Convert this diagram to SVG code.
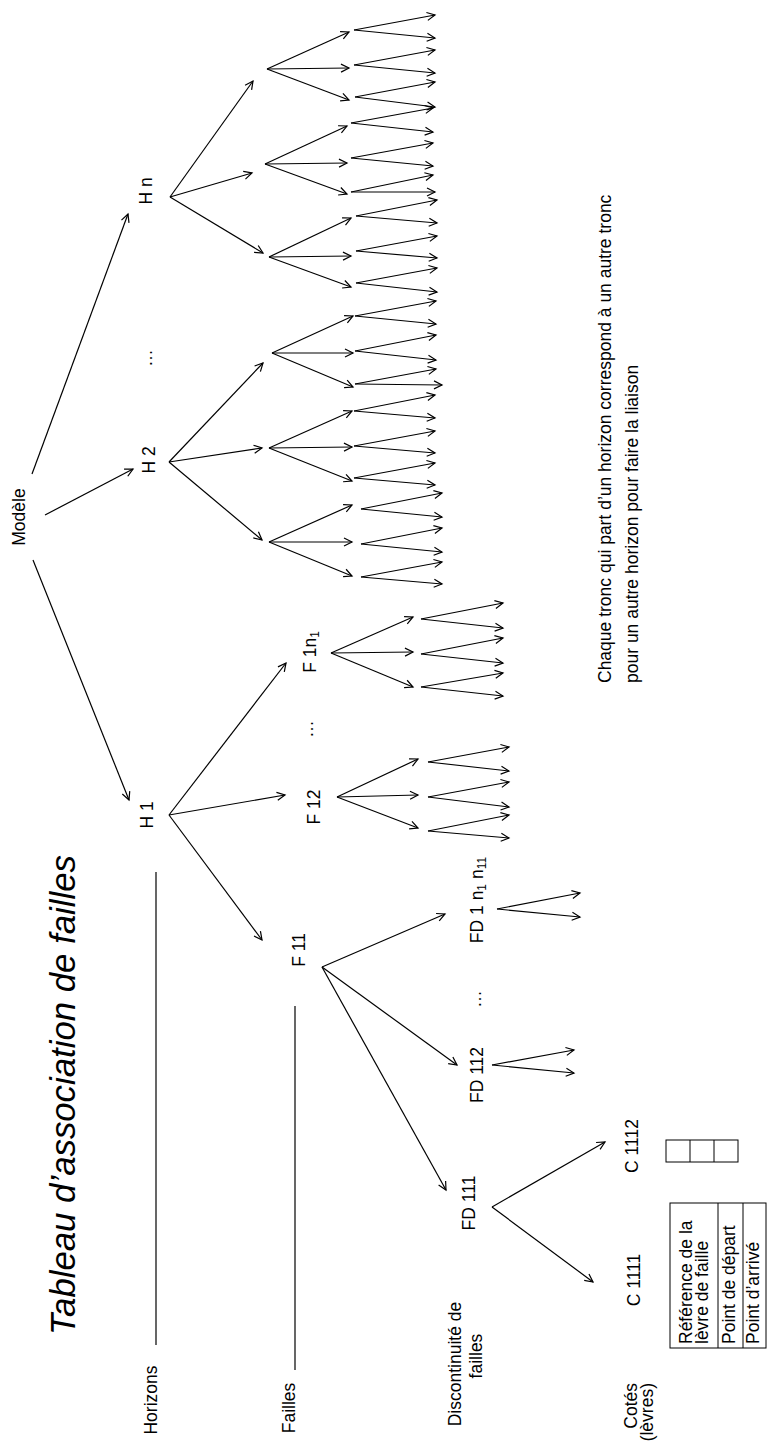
<svg xmlns="http://www.w3.org/2000/svg" width="767" height="1447" viewBox="0 0 767 1447">
<style>
text{font-family:"Liberation Sans",Arial,sans-serif;font-size:17.5px;fill:#000}
.t{font-style:italic;font-size:35px}
.s{font-size:12px}
.c line{stroke:#000;stroke-width:1.2;marker-end:url(#a)}
.r line{stroke:#000;stroke-width:1.2}
.tb{fill:none;stroke:#000;stroke-width:1}
</style>
<defs>
<marker id="a" markerWidth="12" markerHeight="12" refX="10" refY="6" orient="auto" markerUnits="userSpaceOnUse"><path d="M2,2 L10,6 L2,10" fill="none" stroke="#000" stroke-width="1.2"/></marker>
</defs>
<rect width="767" height="1447" fill="#fff"/>
<g id="title"><text class="t" transform="translate(75,1335) rotate(-90)" textLength="480" lengthAdjust="spacingAndGlyphs">Tableau d’association de failles</text></g>
<g id="levels">
<text transform="translate(157,1400) rotate(-90)" text-anchor="middle">Horizons</text>
<text transform="translate(295,1408) rotate(-90)" text-anchor="middle">Failles</text>
<text transform="translate(461,1364) rotate(-90)" text-anchor="middle">Discontinuité de</text>
<text transform="translate(482,1356) rotate(-90)" text-anchor="middle">failles</text>
<text transform="translate(637,1383) rotate(-90)" text-anchor="end">Cotés</text>
<text transform="translate(653,1383) rotate(-90)" text-anchor="end">(lèvres)</text>
</g>
<g id="rules" class="r">
<line x1="156" y1="872" x2="156" y2="1345"/>
<line x1="295" y1="1006" x2="295" y2="1370"/>
</g>
<g id="n-modele"><text transform="translate(25,517) rotate(-90)" text-anchor="middle">Modèle</text></g>
<g id="n-h1"><text transform="translate(153,815) rotate(-90)" text-anchor="middle">H 1</text></g>
<g id="n-h2"><text transform="translate(155,460) rotate(-90)" text-anchor="middle">H 2</text></g>
<g id="n-hdots"><text transform="translate(152,358) rotate(-90)" text-anchor="middle">…</text></g>
<g id="n-hn"><text transform="translate(152,191) rotate(-90)" text-anchor="middle">H n</text></g>
<g id="n-f11"><text transform="translate(305,950) rotate(-90)" text-anchor="middle">F 11</text></g>
<g id="n-f12"><text transform="translate(320,807) rotate(-90)" text-anchor="middle">F 12</text></g>
<g id="n-fdots"><text transform="translate(313,729) rotate(-90)" text-anchor="middle">…</text></g>
<g id="n-f1n1"><text transform="translate(316,652) rotate(-90)" text-anchor="middle">F 1n<tspan class="s" dy="3">1</tspan></text></g>
<g id="n-fd111"><text transform="translate(475,1203) rotate(-90)" text-anchor="middle">FD 111</text></g>
<g id="n-fd112"><text transform="translate(483,1075) rotate(-90)" text-anchor="middle">FD 112</text></g>
<g id="n-fddots"><text transform="translate(481,999) rotate(-90)" text-anchor="middle">…</text></g>
<g id="n-fd1n"><text transform="translate(483,900) rotate(-90)" text-anchor="middle">FD 1 n<tspan class="s" dy="3">1</tspan><tspan dy="-3"> n</tspan><tspan class="s" dy="3">11</tspan></text></g>
<g id="n-c1111"><text transform="translate(640,1280) rotate(-90)" text-anchor="middle">C 1111</text></g>
<g id="n-c1112"><text transform="translate(638,1146) rotate(-90)" text-anchor="middle">C 1112</text></g>
<g id="table">
<rect class="tb" x="670" y="1203" width="96" height="145"/>
<line class="tb" x1="718" y1="1203" x2="718" y2="1348"/>
<line class="tb" x1="743" y1="1203" x2="743" y2="1348"/>
<text transform="translate(692,1344) rotate(-90)">Référence de la</text>
<text transform="translate(708,1344) rotate(-90)">lèvre de faille</text>
<text transform="translate(735,1344) rotate(-90)">Point de départ</text>
<text transform="translate(759,1344) rotate(-90)">Point d’arrivé</text>
</g>
<g id="table-small">
<rect class="tb" x="666" y="1140" width="72" height="22"/>
<line class="tb" x1="690" y1="1140" x2="690" y2="1162"/>
<line class="tb" x1="714" y1="1140" x2="714" y2="1162"/>
</g>
<g id="note">
<text transform="translate(611,683) rotate(-90)">Chaque tronc qui part d’un horizon correspond à un autre tronc</text>
<text transform="translate(638,683) rotate(-90)">pour un autre horizon pour faire la liaison</text>
</g>
<g id="connectors" class="c">
<line x1="33" y1="560" x2="129" y2="800"/>
<line x1="45" y1="515" x2="133" y2="469"/>
<line x1="32" y1="474" x2="128" y2="214"/>
<line x1="170" y1="197" x2="253" y2="81"/>
<line x1="170" y1="197" x2="252" y2="173"/>
<line x1="170" y1="197" x2="263" y2="253"/>
<line x1="267" y1="69" x2="349" y2="32"/>
<line x1="267" y1="69" x2="349" y2="68"/>
<line x1="267" y1="69" x2="349" y2="100"/>
<line x1="354" y1="30" x2="435" y2="15"/>
<line x1="354" y1="30" x2="435" y2="38"/>
<line x1="354" y1="65" x2="435" y2="50"/>
<line x1="354" y1="65" x2="435" y2="73"/>
<line x1="355" y1="97" x2="435" y2="82"/>
<line x1="355" y1="97" x2="435" y2="107"/>
<line x1="265" y1="164" x2="347" y2="126"/>
<line x1="265" y1="164" x2="347" y2="163"/>
<line x1="265" y1="164" x2="347" y2="194"/>
<line x1="351" y1="123" x2="433" y2="108"/>
<line x1="351" y1="123" x2="433" y2="132"/>
<line x1="351" y1="158" x2="433" y2="143"/>
<line x1="351" y1="158" x2="433" y2="166"/>
<line x1="351" y1="192" x2="433" y2="175"/>
<line x1="351" y1="192" x2="435" y2="192"/>
<line x1="269" y1="257" x2="351" y2="218"/>
<line x1="269" y1="257" x2="351" y2="256"/>
<line x1="269" y1="257" x2="351" y2="287"/>
<line x1="356" y1="216" x2="437" y2="200"/>
<line x1="356" y1="216" x2="437" y2="223"/>
<line x1="356" y1="251" x2="437" y2="236"/>
<line x1="356" y1="251" x2="437" y2="258"/>
<line x1="356" y1="283" x2="437" y2="268"/>
<line x1="356" y1="283" x2="437" y2="292"/>
<line x1="169" y1="462" x2="263" y2="363"/>
<line x1="169" y1="462" x2="262" y2="448"/>
<line x1="169" y1="462" x2="262" y2="540"/>
<line x1="272" y1="353" x2="353" y2="316"/>
<line x1="272" y1="353" x2="353" y2="353"/>
<line x1="272" y1="353" x2="353" y2="387"/>
<line x1="355" y1="316" x2="436" y2="301"/>
<line x1="355" y1="316" x2="436" y2="324"/>
<line x1="355" y1="351" x2="436" y2="335"/>
<line x1="355" y1="351" x2="436" y2="360"/>
<line x1="355" y1="384" x2="436" y2="369"/>
<line x1="355" y1="384" x2="442" y2="385"/>
<line x1="269" y1="448" x2="352" y2="411"/>
<line x1="269" y1="448" x2="352" y2="447"/>
<line x1="269" y1="448" x2="352" y2="481"/>
<line x1="354" y1="411" x2="435" y2="395"/>
<line x1="354" y1="411" x2="435" y2="418"/>
<line x1="354" y1="446" x2="435" y2="431"/>
<line x1="354" y1="446" x2="435" y2="453"/>
<line x1="354" y1="478" x2="435" y2="463"/>
<line x1="354" y1="478" x2="435" y2="485"/>
<line x1="269" y1="542" x2="352" y2="505"/>
<line x1="269" y1="542" x2="352" y2="542"/>
<line x1="269" y1="542" x2="352" y2="576"/>
<line x1="361" y1="509" x2="442" y2="493"/>
<line x1="361" y1="509" x2="442" y2="517"/>
<line x1="361" y1="544" x2="442" y2="528"/>
<line x1="361" y1="544" x2="442" y2="552"/>
<line x1="361" y1="577" x2="442" y2="562"/>
<line x1="361" y1="577" x2="442" y2="584"/>
<line x1="169" y1="815" x2="262" y2="940"/>
<line x1="169" y1="815" x2="285" y2="795"/>
<line x1="169" y1="815" x2="286" y2="663"/>
<line x1="331" y1="653" x2="413" y2="617"/>
<line x1="331" y1="653" x2="413" y2="652"/>
<line x1="331" y1="653" x2="413" y2="687"/>
<line x1="421" y1="619" x2="503" y2="603"/>
<line x1="421" y1="619" x2="503" y2="628"/>
<line x1="421" y1="654" x2="503" y2="638"/>
<line x1="421" y1="654" x2="503" y2="663"/>
<line x1="421" y1="687" x2="503" y2="673"/>
<line x1="421" y1="687" x2="503" y2="696"/>
<line x1="337" y1="797" x2="418" y2="759"/>
<line x1="337" y1="797" x2="418" y2="795"/>
<line x1="337" y1="797" x2="418" y2="828"/>
<line x1="428" y1="762" x2="509" y2="747"/>
<line x1="428" y1="762" x2="509" y2="771"/>
<line x1="428" y1="797" x2="509" y2="782"/>
<line x1="428" y1="797" x2="509" y2="807"/>
<line x1="428" y1="831" x2="509" y2="815"/>
<line x1="428" y1="831" x2="509" y2="838"/>
<line x1="322" y1="967" x2="445" y2="914"/>
<line x1="322" y1="967" x2="457" y2="1065"/>
<line x1="322" y1="967" x2="446" y2="1190"/>
<line x1="497" y1="909" x2="580" y2="893"/>
<line x1="497" y1="909" x2="580" y2="917"/>
<line x1="492" y1="1065" x2="574" y2="1050"/>
<line x1="492" y1="1065" x2="574" y2="1073"/>
<line x1="492" y1="1207" x2="605" y2="1142"/>
<line x1="492" y1="1207" x2="593" y2="1282"/>
</g>
</svg>
